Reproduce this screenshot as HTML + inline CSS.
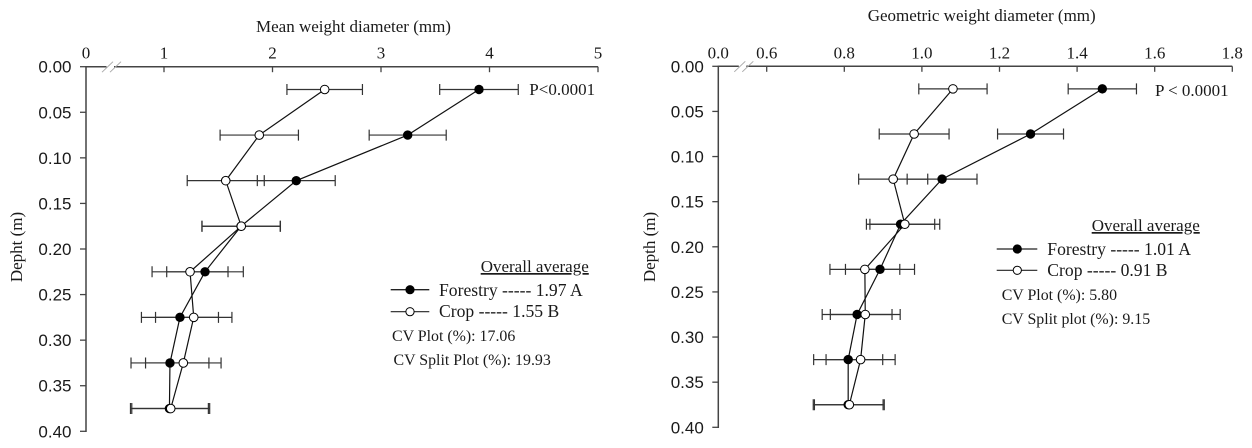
<!DOCTYPE html>
<html>
<head>
<meta charset="utf-8">
<style>
html,body{margin:0;padding:0;background:#fff;width:1252px;height:448px;overflow:hidden}
svg{display:block}
text{fill:#1a1a1a}
.serif{font-family:"Liberation Serif",serif}
.sans{font-family:"Liberation Sans",sans-serif}
.title{font-size:17px}
.xt{font-size:17px}
.yt{font-size:17px}
.leg{font-size:17.6px}
.legt{font-size:17px}
.cv{font-size:15.9px}
.p{font-size:17px}
</style>
</head>
<body>
<svg id="fig" width="1252" height="448" viewBox="0 0 1252 448">
  <g id="chart-left">
    <text class="serif title" x="256" y="32">Mean weight diameter (mm)</text>
    <text class="serif title" transform="translate(22,247) rotate(-90)" text-anchor="middle">Depht (m)</text>
    <text class="serif p" x="529.3" y="95">P&lt;0.0001</text>
    <g>
      <text class="serif legt" x="480.7" y="272" text-decoration="underline">Overall average</text>
      <line x1="390.7" x2="429.3" y1="289.7" y2="289.7" stroke="#222" stroke-width="1.3"/>
      <circle cx="410" cy="289.7" r="4.6" fill="#000"/>
      <text class="serif leg" x="439" y="296">Forestry ----- 1.97 A</text>
      <line x1="390.7" x2="429.3" y1="311.7" y2="311.7" stroke="#222" stroke-width="1.1"/>
      <circle cx="410" cy="311.7" r="4.1" fill="#fff" stroke="#000" stroke-width="1"/>
      <text class="serif leg" x="439" y="317">Crop ----- 1.55 B</text>
      <text class="serif cv" x="392" y="341">CV Plot (%): 17.06</text>
      <text class="serif cv" x="393.5" y="365">CV Split Plot (%): 19.93</text>
    </g>
  </g>
  <g id="chart-right">
    <text class="serif title" x="867.7" y="21">Geometric weight diameter (mm)</text>
    <text class="serif title" transform="translate(655,247) rotate(-90)" text-anchor="middle">Depth (m)</text>
    <text class="serif p" x="1155" y="96">P &lt; 0.0001</text>
    <g>
      <text class="serif legt" x="1091.7" y="231" text-decoration="underline">Overall average</text>
      <line x1="996.7" x2="1037.3" y1="249" y2="249" stroke="#222" stroke-width="1.3"/>
      <circle cx="1017.3" cy="249" r="4.6" fill="#000"/>
      <text class="serif leg" x="1047.3" y="255">Forestry ----- 1.01 A</text>
      <line x1="996.7" x2="1037.3" y1="270.3" y2="270.3" stroke="#222" stroke-width="1.1"/>
      <circle cx="1017.3" cy="270.3" r="4.1" fill="#fff" stroke="#000" stroke-width="1"/>
      <text class="serif leg" x="1047.3" y="276">Crop ----- 0.91 B</text>
      <text class="serif cv" x="1001.7" y="300">CV Plot (%): 5.80</text>
      <text class="serif cv" x="1001.7" y="324">CV Split plot (%): 9.15</text>
    </g>
  </g>
</svg>
<script>
var depths = [0.025, 0.075, 0.125, 0.175, 0.225, 0.275, 0.325, 0.375];
var depthTicks = [0.00, 0.05, 0.10, 0.15, 0.20, 0.25, 0.30, 0.35, 0.40];

var mwdTicks = [1, 2, 3, 4, 5];
var mwdForestry = [3.903, 3.246, 2.219, 1.71, 1.378, 1.147, 1.055, 1.05];
var mwdForestryErr = [0.362, 0.355, 0.359, 0.361, 0.353, 0.355, 0.359, 0.359];
var mwdCrop = [2.481, 1.878, 1.569, 1.712, 1.24, 1.274, 1.178, 1.062];
var mwdCropErr = [0.348, 0.361, 0.355, 0.361, 0.35, 0.352, 0.348, 0.359];

var gwdTicks = [0.6, 0.8, 1.0, 1.2, 1.4, 1.6, 1.8];
var gwdForestry = [1.465, 1.28, 1.052, 0.945, 0.892, 0.833, 0.81, 0.81];
var gwdForestryErr = [0.088, 0.085, 0.09, 0.088, 0.089, 0.09, 0.089, 0.09];
var gwdCrop = [1.08, 0.98, 0.926, 0.956, 0.853, 0.854, 0.842, 0.813];
var gwdCropErr = [0.088, 0.09, 0.089, 0.09, 0.09, 0.09, 0.089, 0.09];

var NS = 'http://www.w3.org/2000/svg';

function make(parent, tag, attrs, text) {
  var el = document.createElementNS(NS, tag);
  for (var k in attrs) el.setAttribute(k, attrs[k]);
  if (text !== undefined) el.textContent = text;
  parent.appendChild(el);
  return el;
}

function drawChart(root, o) {
  function X(v) { return o.x0 + (v - o.v0) * o.xs; }
  function Y(d) { return o.y0 + d * o.ys; }
  var axisColor = '#444';

  var axes = make(root, 'g', {});
  
  

  var xAxis = make(axes, 'line', {x1: o.ox, x2: X(o.xTicks[o.xTicks.length - 1]), y1: Y(0), y2: Y(0), stroke: axisColor, 'stroke-width': 1.5});
  
  

  var yAxis = make(axes, 'line', {x1: o.ox, x2: o.ox, y1: Y(0) - 0.7, y2: Y(0.4) + 0.7, stroke: axisColor, 'stroke-width': 1.5});
  
  

  var gap = make(axes, 'rect', {x: o.ox + 20.5, y: Y(0) - 1.5, width: 7.5, height: 3, fill: '#fff'});
  
  

  [0, 8].forEach(function (dx) {
    var s = make(axes, 'line', {x1: o.ox + 16 + dx, y1: Y(0) + 5.5, x2: o.ox + 27 + dx, y2: Y(0) - 5, stroke: '#aaa', 'stroke-width': 1});
    
    
  });

  var originLabel = make(axes, 'text', {'class': 'serif xt', x: o.ox, y: 58.5, 'text-anchor': 'middle'}, o.originLabel);
  
  

  o.xTicks.forEach(function (t) {
    var tick = make(axes, 'line', {x1: X(t), x2: X(t), y1: Y(0), y2: Y(0) + 5.5, stroke: axisColor, 'stroke-width': 1.3});
    
    
    var lab = make(axes, 'text', {'class': 'serif xt', x: X(t), y: 58.5, 'text-anchor': 'middle'}, t.toFixed(o.xDec));
    
    
  });

  depthTicks.forEach(function (t) {
    var tick = make(axes, 'line', {x1: o.ox - 6, x2: o.ox, y1: Y(t), y2: Y(t), stroke: axisColor, 'stroke-width': 1.3});
    
    
    var lab = make(axes, 'text', {'class': 'sans yt', x: o.ox - 14.5, y: Y(t) + 6, 'text-anchor': 'end'}, t.toFixed(2));
    
    
  });

  function errorBars(vals, errs, name) {
    var g = make(root, 'g', {stroke: '#333', 'stroke-width': 1.2});
    
    
    depths.forEach(function (d, i) {
      var lo = X(vals[i] - errs[i]), hi = X(vals[i] + errs[i]), y = Y(d);
      var bar = make(g, 'path', {fill: 'none', d: 'M' + lo + ' ' + y + 'H' + hi + 'M' + lo + ' ' + (y - 5.5) + 'V' + (y + 5.5) + 'M' + hi + ' ' + (y - 5.5) + 'V' + (y + 5.5)});
      
      
    });
  }

  function series(vals, name, open) {
    var pts = depths.map(function (d, i) { return X(vals[i]) + ',' + Y(d); }).join(' ');
    var line = make(root, 'polyline', {points: pts, fill: 'none', stroke: '#111', 'stroke-width': 1.2});
    
    
    return function () {
      depths.forEach(function (d, i) {
        var c = make(root, 'circle', open
          ? {cx: X(vals[i]), cy: Y(d), r: 4.3, fill: '#fff', stroke: '#000', 'stroke-width': 1}
          : {cx: X(vals[i]), cy: Y(d), r: 4.7, fill: '#000'});
        
        
      });
    };
  }

  errorBars(o.forestry, o.forestryErr, 'forestry');
  errorBars(o.crop, o.cropErr, 'crop');
  var drawForestryPoints = series(o.forestry, 'forestry', false);
  var drawCropPoints = series(o.crop, 'crop', true);
  drawForestryPoints();
  drawCropPoints();
}

drawChart(document.getElementById('chart-left'), {
  ox: 86, x0: 164, v0: 1, xs: 108.5, y0: 66.7, ys: 911.5, xDec: 0, originLabel: '0',
  xTicks: mwdTicks, forestry: mwdForestry, forestryErr: mwdForestryErr, crop: mwdCrop, cropErr: mwdCropErr
});
drawChart(document.getElementById('chart-right'), {
  ox: 718.3, x0: 766.7, v0: 0.6, xs: 388, y0: 66.3, ys: 902.5, xDec: 1, originLabel: '0.0',
  xTicks: gwdTicks, forestry: gwdForestry, forestryErr: gwdForestryErr, crop: gwdCrop, cropErr: gwdCropErr
});
</script>
</body>
</html>
